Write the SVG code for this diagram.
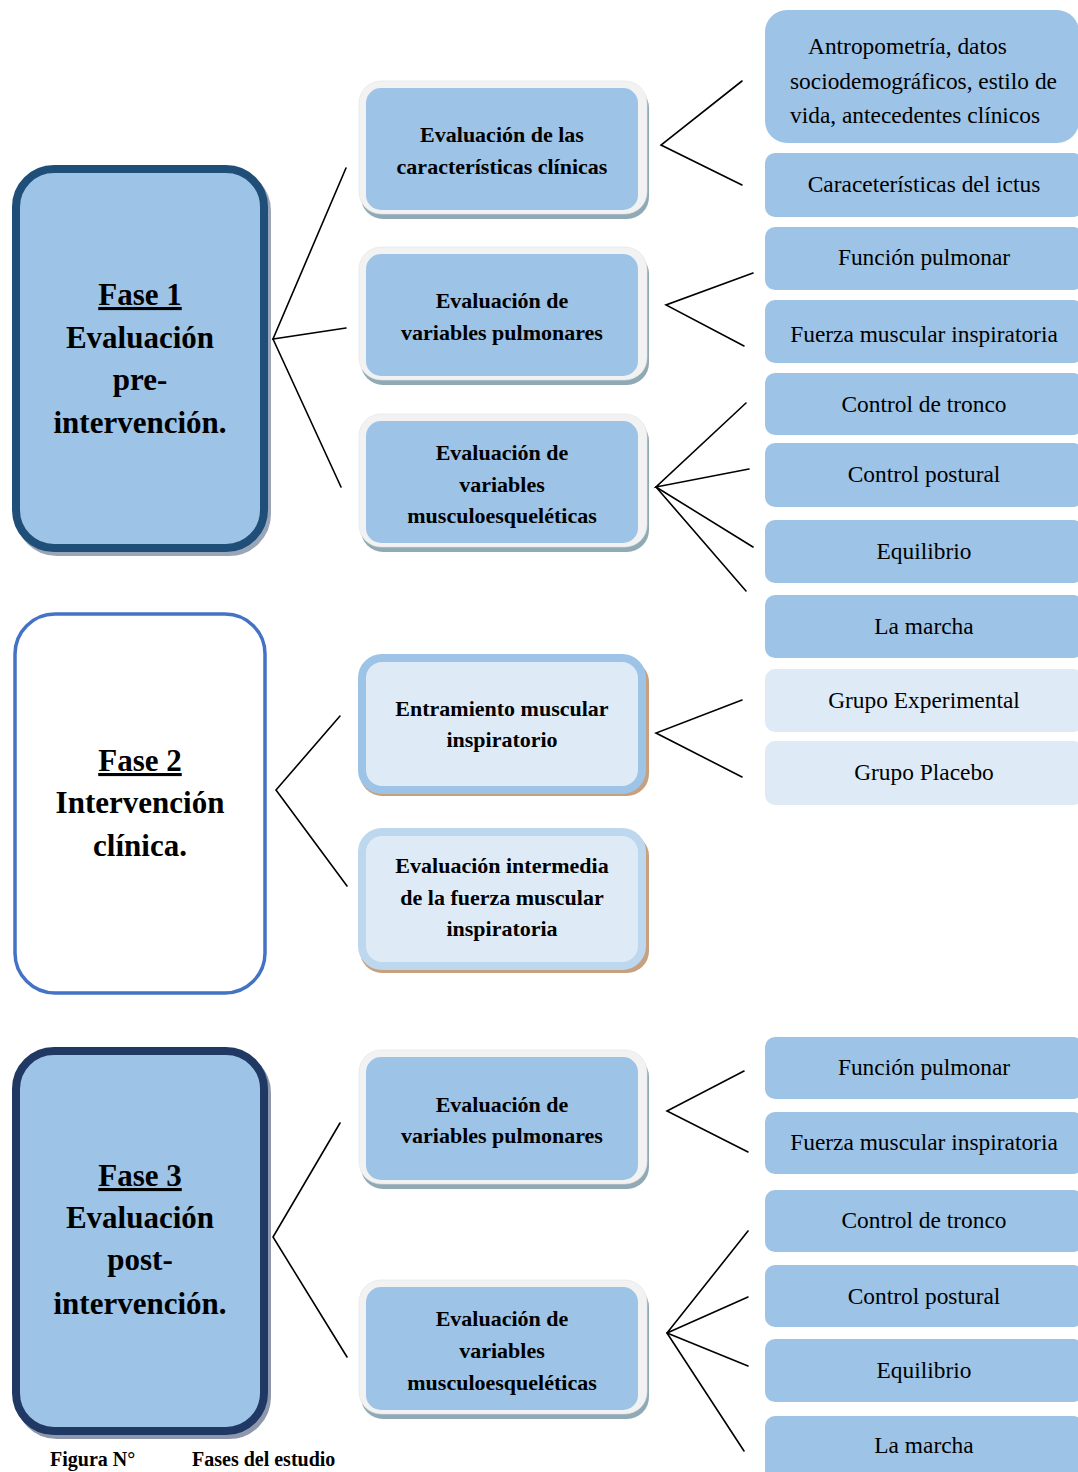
<svg xmlns="http://www.w3.org/2000/svg" width="1078" height="1472" viewBox="0 0 1078 1472">
<style>
.ph{font-family:"Liberation Serif",serif;font-weight:bold;font-size:31px;fill:#000;text-anchor:middle}
.mid{font-family:"Liberation Serif",serif;font-weight:bold;font-size:22px;fill:#000;text-anchor:middle}
.rt{font-family:"Liberation Serif",serif;font-size:23.4px;fill:#000;text-anchor:middle}
.rtl{font-family:"Liberation Serif",serif;font-size:23.4px;fill:#000}
.rb{fill:#9DC3E6}
.rl{fill:#DEEBF7}
.msh{fill:#8FA9B5}
.mout{fill:#F2F2F2;stroke:#E2E2E2;stroke-width:0.6}
.min{fill:#9DC3E6}
.bsh{fill:#C9A07E}
.cn{stroke:#000;stroke-width:1.6;fill:none;stroke-linecap:round;stroke-linejoin:miter}
</style>
<rect width="1078" height="1472" fill="#fff"/>

<!-- Phase nodes -->
<g id="fase1">
<rect x="19" y="173" width="248" height="379" rx="38" fill="#9AA6B8" stroke="#9AA6B8" stroke-width="8"/>
<rect x="16" y="169" width="248" height="379" rx="38" fill="#9DC3E6" stroke="#1F4E79" stroke-width="8"/>
<text class="ph" x="140" y="305" text-decoration="underline">Fase 1</text>
<text class="ph" x="140" y="348">Evaluación</text>
<text class="ph" x="140" y="390">pre-</text>
<text class="ph" x="140" y="433">intervención.</text>
</g>
<g id="fase2">
<rect x="15" y="614" width="250" height="379" rx="40" fill="#fff" stroke="#4472C4" stroke-width="3.5"/>
<text class="ph" x="140" y="771" text-decoration="underline">Fase 2</text>
<text class="ph" x="140" y="813">Intervención</text>
<text class="ph" x="140" y="856">clínica.</text>
</g>
<g id="fase3">
<rect x="19" y="1055" width="248" height="380" rx="38" fill="#8E98AC" stroke="#8E98AC" stroke-width="8"/>
<rect x="16" y="1051" width="248" height="380" rx="38" fill="#9DC3E6" stroke="#203864" stroke-width="8"/>
<text class="ph" x="140" y="1186" text-decoration="underline">Fase 3</text>
<text class="ph" x="140" y="1228">Evaluación</text>
<text class="ph" x="140" y="1270">post-</text>
<text class="ph" x="140" y="1314">intervención.</text>
</g>

<!-- Middle nodes -->
<g id="m1">
<rect class="msh" x="361" y="86" width="288" height="133" rx="22"/>
<rect class="mout" x="359" y="81" width="288" height="133" rx="22"/>
<rect class="min" x="366" y="88" width="272" height="122" rx="15"/>
<text class="mid" x="502" y="142">Evaluación de las</text>
<text class="mid" x="502" y="174">características clínicas</text>
</g>
<g id="m2">
<rect class="msh" x="361" y="252" width="288" height="133" rx="22"/>
<rect class="mout" x="359" y="247" width="288" height="133" rx="22"/>
<rect class="min" x="366" y="254" width="272" height="122" rx="15"/>
<text class="mid" x="502" y="308">Evaluación de</text>
<text class="mid" x="502" y="340">variables pulmonares</text>
</g>
<g id="m3">
<rect class="msh" x="361" y="419" width="288" height="133" rx="22"/>
<rect class="mout" x="359" y="414" width="288" height="133" rx="22"/>
<rect class="min" x="366" y="421" width="272" height="122" rx="15"/>
<text class="mid" x="502" y="460">Evaluación de</text>
<text class="mid" x="502" y="492">variables</text>
<text class="mid" x="502" y="523">musculoesqueléticas</text>
</g>
<g id="m4">
<rect class="bsh" x="360" y="660" width="289" height="136" rx="22"/>
<rect x="362" y="658" width="280" height="132" rx="20" fill="#DEEBF7" stroke="#9DC3E6" stroke-width="8"/>
<text class="mid" x="502" y="716">Entramiento muscular</text>
<text class="mid" x="502" y="747">inspiratorio</text>
</g>
<g id="m5">
<rect class="bsh" x="360" y="834" width="289" height="139" rx="22"/>
<rect x="362" y="832" width="280" height="134" rx="20" fill="#DEEBF7" stroke="#BDD7EE" stroke-width="8"/>
<text class="mid" x="502" y="873">Evaluación intermedia</text>
<text class="mid" x="502" y="905">de la fuerza muscular</text>
<text class="mid" x="502" y="936">inspiratoria</text>
</g>
<g id="m6">
<rect class="msh" x="361" y="1055" width="288" height="134" rx="22"/>
<rect class="mout" x="359" y="1050" width="288" height="134" rx="22"/>
<rect class="min" x="366" y="1057" width="272" height="123" rx="15"/>
<text class="mid" x="502" y="1112">Evaluación de</text>
<text class="mid" x="502" y="1143">variables pulmonares</text>
</g>
<g id="m7">
<rect class="msh" x="361" y="1285" width="288" height="134" rx="22"/>
<rect class="mout" x="359" y="1280" width="288" height="134" rx="22"/>
<rect class="min" x="366" y="1287" width="272" height="123" rx="15"/>
<text class="mid" x="502" y="1326">Evaluación de</text>
<text class="mid" x="502" y="1358">variables</text>
<text class="mid" x="502" y="1390">musculoesqueléticas</text>
</g>

<!-- Right nodes -->
<g id="r1"><rect class="rb" x="765" y="10" width="314" height="133" rx="22"/>
<text class="rtl" x="808" y="54">Antropometría, datos</text>
<text class="rtl" x="790" y="89">sociodemográficos, estilo de</text>
<text class="rtl" x="790" y="123">vida, antecedentes clínicos</text></g>
<g id="r2"><rect class="rb" x="765" y="153" width="318" height="64" rx="10"/><text class="rt" x="924" y="192">Caraceterísticas del ictus</text></g>
<g id="r3"><rect class="rb" x="765" y="227" width="318" height="63" rx="10"/><text class="rt" x="924" y="265">Función pulmonar</text></g>
<g id="r4"><rect class="rb" x="765" y="300" width="318" height="63" rx="10"/><text class="rt" x="924" y="342">Fuerza muscular inspiratoria</text></g>
<g id="r5"><rect class="rb" x="765" y="373" width="318" height="62" rx="10"/><text class="rt" x="924" y="412">Control de tronco</text></g>
<g id="r6"><rect class="rb" x="765" y="443" width="318" height="64" rx="10"/><text class="rt" x="924" y="482">Control postural</text></g>
<g id="r7"><rect class="rb" x="765" y="520" width="318" height="63" rx="10"/><text class="rt" x="924" y="559">Equilibrio</text></g>
<g id="r8"><rect class="rb" x="765" y="595" width="318" height="63" rx="10"/><text class="rt" x="924" y="634">La marcha</text></g>
<g id="r9"><rect class="rl" x="765" y="669" width="318" height="63" rx="10"/><text class="rt" x="924" y="708">Grupo Experimental</text></g>
<g id="r10"><rect class="rl" x="765" y="741" width="318" height="64" rx="10"/><text class="rt" x="924" y="780">Grupo Placebo</text></g>
<g id="r11"><rect class="rb" x="765" y="1037" width="318" height="62" rx="10"/><text class="rt" x="924" y="1075">Función pulmonar</text></g>
<g id="r12"><rect class="rb" x="765" y="1112" width="318" height="62" rx="10"/><text class="rt" x="924" y="1150">Fuerza muscular inspiratoria</text></g>
<g id="r13"><rect class="rb" x="765" y="1190" width="318" height="62" rx="10"/><text class="rt" x="924" y="1228">Control de tronco</text></g>
<g id="r14"><rect class="rb" x="765" y="1265" width="318" height="62" rx="10"/><text class="rt" x="924" y="1304">Control postural</text></g>
<g id="r15"><rect class="rb" x="765" y="1339" width="318" height="63" rx="10"/><text class="rt" x="924" y="1378">Equilibrio</text></g>
<g id="r16"><rect class="rb" x="765" y="1416" width="318" height="70" rx="10"/><text class="rt" x="924" y="1453">La marcha</text></g>

<!-- Connectors -->
<g id="connectors">
<polyline class="cn" points="346,168 273,339 346,328"/>
<line class="cn" x1="273" y1="339" x2="341" y2="487"/>
<polyline class="cn" points="742,81 661,145 742,185"/>
<polyline class="cn" points="753,273 666,305 744,346"/>
<polyline class="cn" points="746,403 656,487 749,469"/>
<line class="cn" x1="656" y1="487" x2="753" y2="547"/>
<line class="cn" x1="656" y1="487" x2="746" y2="591"/>
<polyline class="cn" points="340,716 276,790 347,886"/>
<polyline class="cn" points="742,700 656,733 742,777"/>
<polyline class="cn" points="340,1123 273,1237 347,1357"/>
<polyline class="cn" points="744,1071 667,1111 748,1152"/>
<polyline class="cn" points="748,1231 667,1333 748,1297"/>
<line class="cn" x1="667" y1="1333" x2="748" y2="1366"/>
<line class="cn" x1="667" y1="1333" x2="744" y2="1451"/>
</g>

<text x="50" y="1466" font-family="Liberation Serif, serif" font-weight="bold" font-size="20" fill="#000">Figura N°<tspan x="192">Fases del estudio</tspan></text>
</svg>
